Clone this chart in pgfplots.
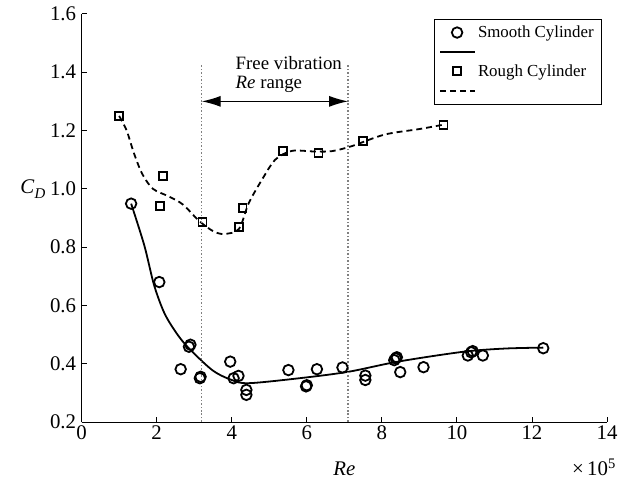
\documentclass[border=0pt]{standalone}
\usepackage{fontspec}
\setmainfont{Liberation Serif}
\usepackage{pgfplots}
\pgfplotsset{compat=1.18}
\usetikzlibrary{arrows.meta}

\pgfplotsset{
  markleg/.style={legend image code/.code={\path[draw=none,fill=none,use as bounding box] (0bp,-9.75bp) rectangle (36bp,9.75bp); \draw[##1] plot coordinates {(17bp,0bp)};}},
  lineleg/.style={legend image code/.code={\path[draw=none,fill=none,use as bounding box] (0bp,-9.75bp) rectangle (36bp,9.75bp); \draw[##1] (0bp,0bp) -- (35bp,0bp);}},
}

\pgfplotstableread{
x y
1.32 0.949
2.07 0.680
2.64 0.381
2.86 0.458
2.90 0.465
3.15 0.350
3.17 0.355
3.96 0.407
4.05 0.350
4.18 0.358
4.39 0.310
4.39 0.293
5.51 0.378
5.98 0.322
6.00 0.326
6.27 0.381
6.95 0.387
7.56 0.359
7.56 0.344
8.33 0.412
8.37 0.418
8.40 0.422
8.49 0.371
9.11 0.388
10.29 0.428
10.38 0.439
10.42 0.443
10.69 0.428
12.30 0.453
}\smoothpts

\pgfplotstableread{
x y
1.32 0.949
1.67 0.806
1.93 0.670
2.20 0.575
2.50 0.510
2.82 0.458
3.48 0.378
4.00 0.344
4.45 0.333
5.80 0.350
7.10 0.372
8.43 0.407
10.18 0.441
11.30 0.452
12.30 0.455
}\smoothfit

\pgfplotstableread{
x y
1.00 1.250
2.09 0.942
2.16 1.044
3.22 0.887
4.19 0.868
4.29 0.933
5.36 1.129
6.31 1.124
7.50 1.163
9.64 1.220
}\roughpts

\pgfplotstableread{
x y
1.00 1.250
1.20 1.200
1.40 1.120
1.62 1.050
1.90 1.000
2.30 0.975
2.69 0.947
3.13 0.890
3.50 0.855
3.79 0.845
4.19 0.862
4.45 0.950
4.80 1.030
5.16 1.100
5.60 1.130
6.20 1.128
6.66 1.129
7.19 1.146
8.07 1.186
9.00 1.205
9.64 1.220
}\roughfit

\begin{document}
\begin{tikzpicture}[x=1bp,y=1bp]
\begin{axis}[
  name=ax,
  scale only axis, width=528bp, height=410bp,
  xmin=0, xmax=14, ymin=0.2, ymax=1.6,
  axis lines=left,
  axis line style={-, line width=0.9bp},
  xtick={0,2,4,6,8,10,12,14},
  ytick={0.2,0.4,0.6,0.8,1.0,1.2,1.4,1.6},
  tick align=inside, major tick length=5bp,
  tick style={line width=0.9bp, black},
  yticklabel style={xshift=-2bp, /pgf/number format/fixed, /pgf/number format/fixed zerofill, /pgf/number format/precision=1},
  /pgf/number format/assume math mode=true,
  ticklabel style={font=\fontsize{21}{24}\selectfont},
  scaled x ticks=false,
  clip=false,
  legend style={at={(0.9905,0.9878)}, anchor=north east,
    draw=black, line width=0.9bp, font=\fontsize{17}{19}\selectfont,
    inner xsep=6bp, inner ysep=3.5bp, row sep=0bp, column sep=0bp,
    nodes={inner sep=2bp}, cells={anchor=west}},
  legend cell align=left,
]
\addplot[only marks, mark=o, mark size=5.3bp, mark options={line width=1.8bp, black}, markleg] table {\smoothpts};
\addlegendentry{Smooth Cylinder}
\addplot[black, line width=1.8bp, smooth, no marks, lineleg] table {\smoothfit};
\addlegendentry{}
\addplot[only marks, mark=square, mark size=4bp, mark options={line width=1.8bp, black}, markleg] table {\roughpts};
\addlegendentry{Rough Cylinder}
\addplot[black, line width=1.8bp, smooth, no marks, dash pattern=on 6bp off 4bp, lineleg] table {\roughfit};
\addlegendentry{}

\addplot[gray, line width=1.2bp, dash pattern=on 1.5bp off 2bp, forget plot] coordinates {(3.2,0.2) (3.2,1.43)};
\addplot[gray, line width=1.2bp, dash pattern=on 1.5bp off 2bp, forget plot] coordinates {(7.1,0.2) (7.1,1.43)};

\draw[{Latex[length=19bp,width=11bp]}-{Latex[length=19bp,width=11bp]}, line width=1.2bp] (axis cs:3.2,1.30) -- (axis cs:7.1,1.30);
\node[anchor=west, font=\fontsize{19}{22}\selectfont, inner sep=0pt] at (axis cs:4.1,1.432) {Free vibration};
\node[anchor=west, font=\fontsize{19}{22}\selectfont, inner sep=0pt] at (axis cs:4.1,1.36) {\textit{Re} range};

\node[font=\fontsize{21}{24}\selectfont, anchor=base] at (rel axis cs:0.5,0) [yshift=-54bp] {\textit{Re}};
\node[font=\fontsize{21}{24}\selectfont, anchor=base east, inner sep=0pt] at (rel axis cs:1,0) [yshift=-54bp, xshift=9bp] {×\,10\textsuperscript{5}};
\node[font=\fontsize{21}{24}\selectfont] at (axis cs:0,1.0) [xshift=-49bp] {\textit{C}\raisebox{-0.5ex}{\fontsize{15}{17}\selectfont\textit{D}}};
\end{axis}
\pgfresetboundingbox
\path (ax.south west) ++(-82bp,-57bp) rectangle ++(621bp,481bp);
\end{tikzpicture}
\end{document}
